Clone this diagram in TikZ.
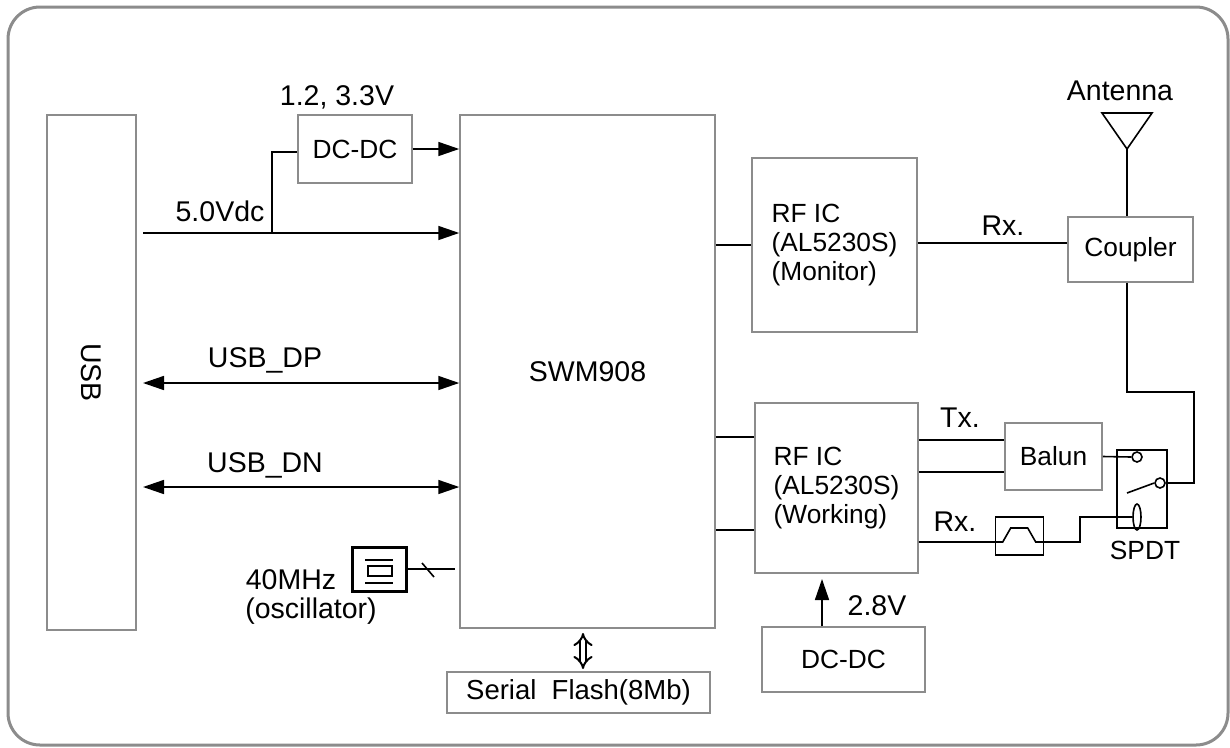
\documentclass[tikz,border=0pt]{standalone}
\usepackage{fontspec}
\setmainfont{Liberation Sans}
\usetikzlibrary{arrows.meta,shapes.geometric}

\definecolor{boxgray}{RGB}{140,140,140}
\tikzset{
  blk/.style={draw=boxgray, line width=1.5pt, inner sep=0pt},
  wire/.style={line width=1.6pt},
  arr/.style={wire, -{Triangle[length=21pt,width=14pt]}},
  darr/.style={wire, {Triangle[length=21pt,width=14pt]}-{Triangle[length=21pt,width=14pt]}},
  big/.style={font=\fontsize{28.5}{32}\selectfont},
  lbl/.style={inner sep=0pt, big},
  port/.style={draw, wire, circle, minimum size=10pt, inner sep=0pt}
}

\begin{document}
\begin{tikzpicture}[x=1pt, y=-1pt, font=\fontsize{26.3}{29}\selectfont]
\useasboundingbox (0,0) rectangle (1230,747);
\draw [boxgray, line width=3pt, rounded corners=32pt] (8,7) rectangle (1228,745);

\node [blk, minimum width=89pt, minimum height=515pt] (usb) at (91.5,372.5) {};
\node [lbl, rotate=-90] (usbtxt) at (usb) {USB};
\node [blk, big, minimum width=255pt, minimum height=513pt] (swm) at (587.5,371.5) {SWM908};
\node [blk, minimum width=114pt, minimum height=68pt] (dctop) at (355,149) {DC-DC};
\node [blk, font=\fontsize{27.5}{30}\selectfont, minimum width=263pt, minimum height=41pt] (flash) at (578.5,692.5) {Serial\ \ Flash(8Mb)};
\node [blk, minimum width=165pt, minimum height=174pt, align=left] (rfmon) at (834.5,245)
      {RF IC\\(AL5230S)\\(Monitor)};
\node [blk, minimum width=163pt, minimum height=170pt, align=left] (rfwork) at (836.5,488)
      {RF IC\\(AL5230S)\\(Working)};
\node [blk, minimum width=163pt, minimum height=65pt] (dcbot) at (843.5,659.5) {DC-DC};
\node [blk, minimum width=125pt, minimum height=65pt] (coupler) at (1130.5,249.5) {Coupler};
\node [blk, minimum width=97pt, minimum height=67pt] (balun) at (1053.5,456.5) {Balun};
\node [draw, wire, minimum width=48pt, minimum height=38pt] (filter) at (1019.5,536) {};
\node [draw, wire, minimum width=50pt, minimum height=78pt] (spdt) at (1142,489) {};
\node [draw, line width=3pt, minimum width=54pt, minimum height=44pt] (osc) at (379,569) {};

\node [lbl] (vout) at (337,97) {1.2, 3.3V};
\node [lbl] (vusb) at (220,211) {5.0Vdc};
\node [lbl] (dp) at (265,360) {USB\_DP};
\node [lbl] (dn) at (265,465) {USB\_DN};
\node [lbl] (mhz) at (291,580) {40MHz};
\node [lbl] (osctxt) at (311,611) {(oscillator)};
\node [lbl] (rxmon) at (1003,226) {Rx.};
\node [lbl] (tx) at (960,418) {Tx.};
\node [lbl] (rxwork) at (955,522) {Rx.};
\node [lbl] (anttxt) at (1120,91) {Antenna};
\node [inner sep=0pt] (spdttxt) at (1145,550) {SPDT};
\node [lbl] (vrf) at (877,606) {2.8V};

\coordinate (vin) at (143,233);
\coordinate (tap) at (272,233);
\draw [arr] (vin) -- (vin -| swm.west);
\draw [wire] (tap) |- ([yshift=-3pt]dctop.west);
\draw [arr] (dctop.east) -- (dctop.east -| swm.west);
\coordinate (dpl) at (143,383);
\coordinate (dnl) at (143,487);
\draw [darr] (dpl) -- (dpl -| swm.west);
\draw [darr] (dnl) -- (dnl -| swm.west);

\draw [line width=2.5pt] ([shift={(-14,-9)}]osc.center) -- ++(28,0);
\draw [line width=2.5pt] ([shift={(-11,-3)}]osc.center) rectangle ++(24,10);
\draw [line width=2.5pt] ([shift={(-14,14)}]osc.center) -- ++(28,0);
\coordinate (clk) at (455,569);
\draw [wire] (osc.east) -- (clk);
\draw [wire] (422,563) -- (434,577);

\draw [line width=2pt, double distance=4.5pt, {Implies}-{Implies}] (583,633) -- (583,669);

\draw [wire] (rfmon.west -| swm.east) -- (rfmon.west);
\draw [wire] ([yshift=2pt]rfmon.east) -- ([yshift=2pt]rfmon.east -| coupler.west);
\foreach \y in {437,530}
  \draw [wire] (swm.east |- 0,\y) -- (rfwork.west |- 0,\y);
\foreach \y in {440,472}
  \draw [wire] (rfwork.east |- 0,\y) -- (balun.west |- 0,\y);

\coordinate (ant) at (1127,149);
\draw [wire] (ant) -- ++(-25,-36) -- ++(50,0) -- cycle;
\draw [wire] (ant) -- (ant |- coupler.north);

\node [port] (swa) at (1137,457) {};
\node [port] (swc) at (1160,483) {};
\node [draw, wire, ellipse, minimum width=8pt, minimum height=26pt, inner sep=0pt] (swb) at (1137,517) {};
\draw [wire] (1127,493) -- (swc.west);
\draw [wire] (balun.east) -- (swa.west);
\draw [wire] (ant |- coupler.south) |- (1194,392) |- (swc.east);

\draw [wire] (rfwork.east |- 0,542) -- (filter.west |- 0,542) -- ++(8,0) -- ++(8,-14)
             -- ++(17,0) -- ++(8,14) -- (filter.east |- 0,542) -- (1080,542) |- (swb.west);

\coordinate (pin) at (822,579);
\draw [arr] (pin |- dcbot.north) -- (pin);
\end{tikzpicture}
\end{document}
